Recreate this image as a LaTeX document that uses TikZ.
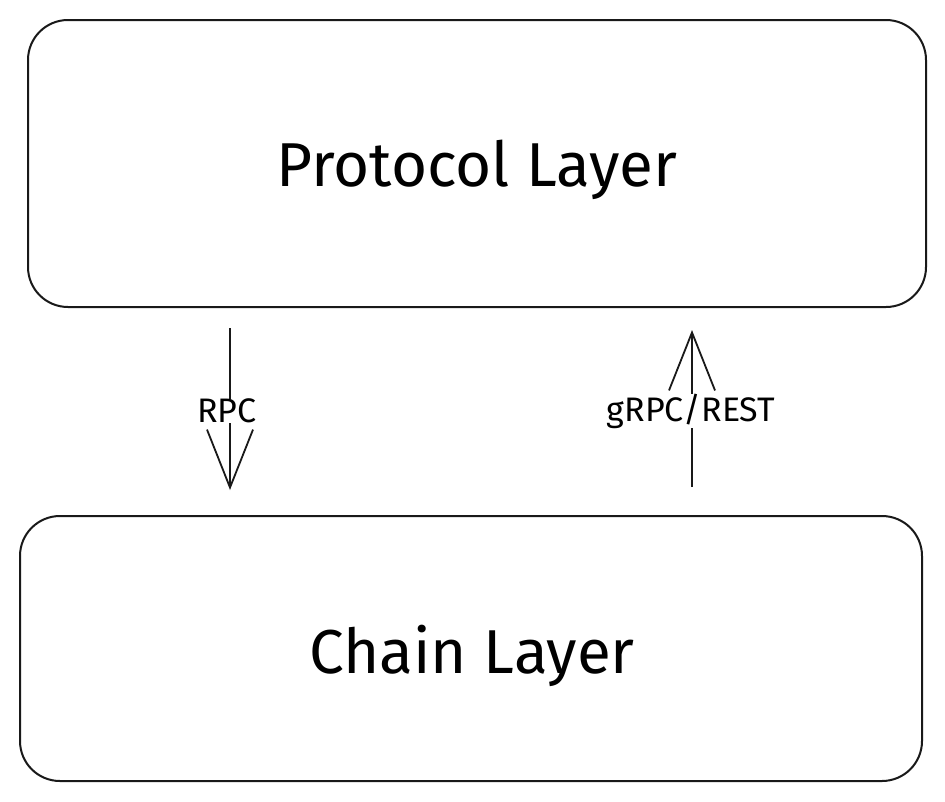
\documentclass[tikz,border=0pt]{standalone}
\usepackage{fontspec}
\setmainfont{Fira Sans}
\usetikzlibrary{arrows.meta}
\begin{document}
\begin{tikzpicture}[x=1pt,y=-1pt,
  layerbox/.style={draw=black!90, line width=2pt, rounded corners=40pt, fill=white},
  bigtxt/.style={font=\fontsize{62}{70}\selectfont},
  lbl/.style={fill=white, inner sep=3pt, font=\fontsize{34}{38}\selectfont},
  conn/.style={draw=black!90, line width=1.8pt, -{Straight Barb[length=58pt,width=46pt,line width=1.8pt]}}]
\useasboundingbox (0,0) rectangle (945,801);
\node[layerbox, minimum width=898pt, minimum height=287pt] (proto) at (477,163.5) {};
\node[bigtxt] (prototxt) at (477,170) {Protocol Layer};
\node[layerbox, minimum width=902pt, minimum height=265pt] (chain) at (471,648.5) {};
\node[bigtxt] (chaintxt) at (472,656) {Chain Layer};
\coordinate (rpcA) at (230,328);
\coordinate (rpcB) at (230,490);
\coordinate (grA) at (692,487);
\coordinate (grB) at (692,330);
\draw[conn] (rpcA) -- (rpcB);
\draw[conn] (grA) -- (grB);
\node[lbl, inner ysep=0pt] (rpc) at (227,411) {RPC};
\node[lbl, inner ysep=0pt] (gr) at (691,411) {gRPC/REST};
\end{tikzpicture}
\end{document}
